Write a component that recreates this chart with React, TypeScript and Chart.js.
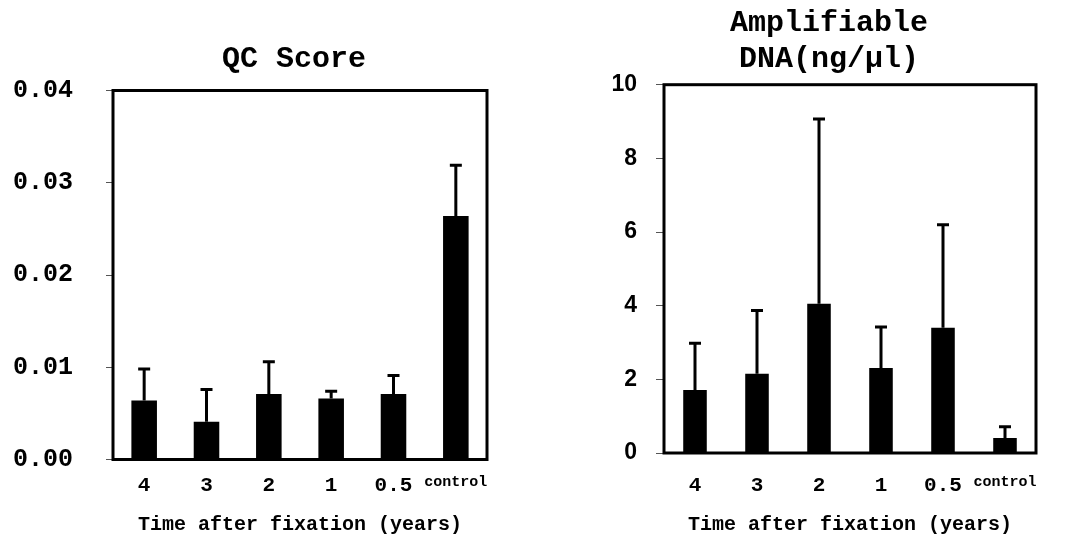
import React, { useEffect, useRef } from 'react';
import { Chart, registerables } from 'chart.js';

Chart.register(...registerables);

// ---- data ----
const categories = ['4', '3', '2', '1', '0.5', 'control'];

const qcValues = [0.0064, 0.0041, 0.0071, 0.0066, 0.0071, 0.0264];
const qcErrors = [0.0034, 0.0035, 0.0035, 0.0008, 0.002, 0.0055];
const qcTickLabels = ['0.00', '0.01', '0.02', '0.03', '0.04'];

const dnaValues = [1.71, 2.15, 4.05, 2.31, 3.4, 0.41];
const dnaErrors = [1.27, 1.72, 5.02, 1.11, 2.8, 0.3];
const dnaTickLabels = ['0', '2', '4', '6', '8', '10'];

const qcTitle = 'QC Score';
const dnaTitle = ['Amplifiable', 'DNA(ng/µl)'];
const xAxisTitle = 'Time after fixation (years)';

const MONO = '"Courier New", "Nimbus Mono PS", "Liberation Mono", monospace';
const SANS = '"Liberation Sans", Arial, Helvetica, sans-serif';

const boxAndErrors = {
  id: 'boxAndErrors',
  afterDatasetsDraw(chart: any, _args: any, opts: any) {
    const { ctx, chartArea } = chart;
    const meta = chart.getDatasetMeta(0);
    const yScale = chart.scales.y;
    const vals = chart.data.datasets[0].data as number[];
    const errs = opts.errors as number[];
    ctx.save();
    ctx.strokeStyle = '#000';
    ctx.lineCap = 'butt';
    ctx.lineWidth = 3;
    meta.data.forEach((bar: any, i: number) => {
      const x = bar.x;
      const yv = yScale.getPixelForValue(vals[i]);
      const yt = yScale.getPixelForValue(vals[i] + errs[i]);
      ctx.beginPath();
      ctx.moveTo(x, yv);
      ctx.lineTo(x, yt);
      ctx.moveTo(x - 6, yt);
      ctx.lineTo(x + 6, yt);
      ctx.stroke();
    });
    ctx.lineWidth = 3;
    ctx.strokeRect(
      chartArea.left,
      chartArea.top,
      chartArea.right - chartArea.left,
      chartArea.bottom - chartArea.top
    );
    ctx.restore();
  },
};

type Cfg = {
  values: number[];
  errors: number[];
  tickLabels: string[];
  title: string | string[];
  titleSize: number;
  titleLineHeight: number;
  titlePad: { top: number; bottom: number };
  yFont: any;
  yMax: number;
  yStep: number;
  padL: number;
  yWidth: number;
  rightWidth: number;
  xHeight: number;
  xPad: number;
  tickLen: number;
  yPad: number;
  barPct: number;
};

function makeConfig(c: Cfg): any {
  return {
    type: 'bar',
    data: {
      labels: categories,
      datasets: [
        {
          data: c.values,
          backgroundColor: '#000',
          borderWidth: 0,
          barPercentage: c.barPct,
          categoryPercentage: 1,
        },
      ],
    },
    plugins: [boxAndErrors],
    options: {
      responsive: false,
      animation: false,
      layout: { padding: { left: c.padL, right: 0, top: 0, bottom: 0 } },
      plugins: {
        legend: { display: false },
        tooltip: { enabled: false },
        title: {
          display: true,
          text: c.title,
          color: '#000',
          font: { family: MONO, size: c.titleSize, weight: 'bold', lineHeight: c.titleLineHeight },
          padding: c.titlePad,
        },
        boxAndErrors: { errors: c.errors },
      },
      scales: {
        x: {
          type: 'category',
          offset: true,
          grid: { display: false, drawTicks: false },
          border: { display: false },
          ticks: {
            color: '#000',
            autoSkip: false,
            maxRotation: 0,
            padding: c.xPad,
            font: (ctx: any) =>
              ctx.index === categories.length - 1
                ? { family: MONO, size: 15, weight: 'bold' }
                : { family: MONO, size: 21, weight: 'bold' },
          },
          title: {
            display: true,
            text: xAxisTitle,
            color: '#000',
            font: { family: MONO, size: 20, weight: 'bold', lineHeight: 1.2 },
            padding: { top: 0, bottom: 0 },
          },
          afterFit: (s: any) => {
            s.height = c.xHeight;
          },
        },
        y: {
          min: 0,
          max: c.yMax,
          ticks: {
            stepSize: c.yStep,
            color: '#000',
            font: c.yFont,
            padding: c.yPad,
            callback: (_v: any, i: number) => c.tickLabels[i],
          },
          grid: {
            drawOnChartArea: false,
            drawTicks: true,
            tickLength: c.tickLen,
            color: '#555',
            lineWidth: 1,
          },
          border: { display: false },
          afterFit: (s: any) => {
            s.width = c.yWidth;
          },
        },
        spacer: {
          type: 'linear',
          position: 'right',
          display: true,
          grid: { display: false, drawTicks: false },
          border: { display: false },
          ticks: { display: false },
          afterFit: (s: any) => {
            s.width = c.rightWidth;
          },
        },
      },
    },
  };
}

function BarPanel({ cfg, width, left }: { cfg: Cfg; width: number; left: number }) {
  const ref = useRef<HTMLCanvasElement | null>(null);
  useEffect(() => {
    if (!ref.current) return;
    const chart = new Chart(ref.current, makeConfig(cfg));
    return () => chart.destroy();
  }, []);
  return (
    <canvas
      ref={ref}
      width={width}
      height={537}
      style={{ position: 'absolute', left, top: 0, width, height: 537, display: 'block' }}
    />
  );
}

// left panel: canvas 588 wide at x=0 -> plot area x 113..487, title centred at 294
const qcCfg: Cfg = {
  values: qcValues,
  errors: qcErrors,
  tickLabels: qcTickLabels,
  title: qcTitle,
  titleSize: 30,
  titleLineHeight: 1.2,
  titlePad: { top: 41, bottom: 13.5 },
  yFont: { family: MONO, size: 25, weight: 'bold' },
  yMax: 0.04,
  yStep: 0.01,
  padL: 0,
  yWidth: 113,
  rightWidth: 101,
  xHeight: 77.5,
  xPad: 14,
  tickLen: 7,
  yPad: 33,
  barPct: 0.41,
};

// right panel: canvas 538 wide at x=530 -> plot area x 664..1036, title centred at 829
const dnaCfg: Cfg = {
  values: dnaValues,
  errors: dnaErrors,
  tickLabels: dnaTickLabels,
  title: dnaTitle,
  titleSize: 30,
  titleLineHeight: 1.2167,
  titlePad: { top: 5, bottom: 6.7 },
  yFont: { family: SANS, size: 23, weight: 'bold' },
  yMax: 10,
  yStep: 2,
  padL: 60,
  yWidth: 74,
  rightWidth: 32,
  xHeight: 84,
  xPad: 20,
  tickLen: 8,
  yPad: 19,
  barPct: 0.38,
};

export default function App() {
  return (
    <div
      style={{
        position: 'fixed',
        left: 0,
        top: 0,
        width: 1065,
        height: 537,
        background: '#fff',
        overflow: 'hidden',
      }}
    >
      <BarPanel cfg={qcCfg} width={588} left={0} />
      <BarPanel cfg={dnaCfg} width={538} left={530} />
    </div>
  );
}
